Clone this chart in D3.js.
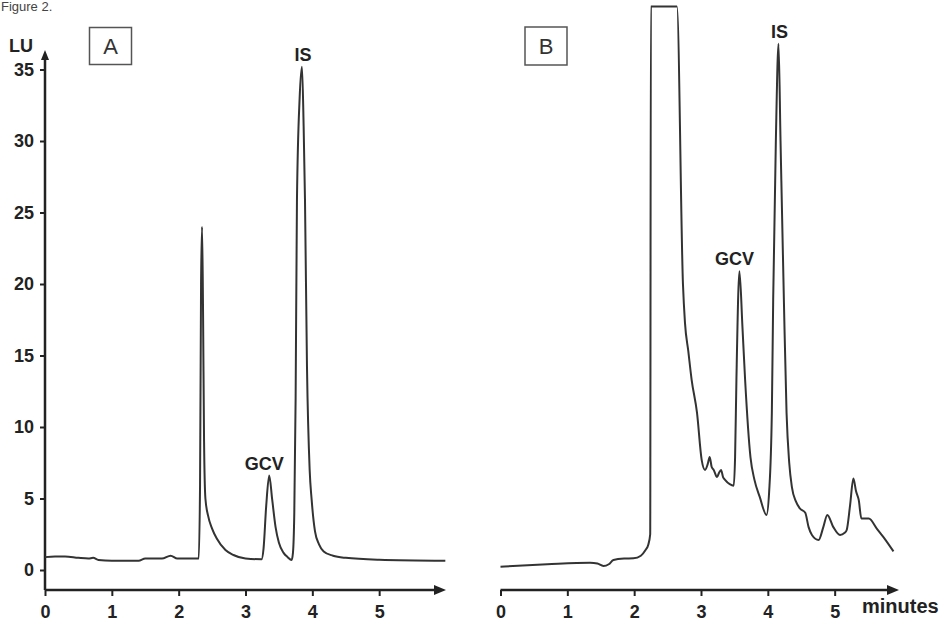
<!DOCTYPE html>
<html>
<head>
<meta charset="utf-8">
<script src="https://cdn.jsdelivr.net/npm/d3@7"></script>
<style>
  html, body { margin: 0; padding: 0; background: #fff; }
  svg { display: block; }
  text { font-family: "Liberation Sans", Arial, sans-serif; }
</style>
</head>
<body>
<svg id="chart" width="947" height="626"></svg>
<script>
// ---- data ----
const yTicks = [0, 5, 10, 15, 20, 25, 30, 35];
const xTicks = [0, 1, 2, 3, 4, 5];

// Panel A chromatogram (minutes, LU)
const timeA = [0, 0.15, 0.3, 0.5, 0.65, 0.72, 0.8, 1.0, 1.4, 1.5, 1.75, 1.88, 1.98, 2.30,
  2.32, 2.335, 2.35, 2.365, 2.38, 2.40, 2.44, 2.5, 2.57, 2.7, 2.82, 3.0,
  3.24, 3.27, 3.31, 3.355, 3.40, 3.45, 3.5, 3.57, 3.63, 3.69,
  3.71, 3.73, 3.75, 3.77, 3.81, 3.845, 3.87, 3.89, 3.92, 3.96, 3.99, 4.04, 4.1, 4.17, 4.31, 4.5, 5.0, 5.99];
const signalA = [0.9, 0.95, 0.95, 0.85, 0.8, 0.85, 0.7, 0.65, 0.65, 0.8, 0.8, 1.0, 0.8, 0.8,
  6, 20, 24, 18, 9, 5.0, 3.8, 2.9, 2.2, 1.4, 1.05, 0.8,
  0.75, 1.5, 4.5, 6.6, 4.9, 3.0, 1.9, 1.2, 0.9, 0.7,
  1.2, 4, 12, 25.9, 33, 35.2, 31, 25.9, 14.2, 7, 4.9, 2.7, 1.8, 1.3, 1.0, 0.85, 0.72, 0.65];

// Panel B chromatogram (minutes, LU); the 39.4 plateau is the off-scale peak
const timeB = [0, 0.7, 1.34, 1.45, 1.54, 1.62, 1.69, 1.85, 1.99, 2.1, 2.17, 2.21, 2.24,
  2.25, 2.64, 2.73, 2.76, 2.81, 2.86, 2.94, 3.01, 3.06, 3.1, 3.13, 3.16, 3.19, 3.24, 3.27, 3.30, 3.33, 3.36, 3.43, 3.49,
  3.51, 3.53, 3.575, 3.62, 3.66, 3.74, 3.80, 3.88, 3.98,
  4.02, 4.06, 4.08, 4.12, 4.16, 4.19, 4.24, 4.28, 4.32, 4.36, 4.42, 4.48, 4.56, 4.61, 4.66, 4.76, 4.83, 4.89,
  4.98, 5.08, 5.15, 5.18, 5.23, 5.28, 5.32, 5.36, 5.4, 5.43, 5.51, 5.63, 5.73, 5.88];
const signalB = [0.23, 0.4, 0.51, 0.45, 0.28, 0.4, 0.7, 0.8, 0.82, 1.0, 1.4, 1.75, 2.5,
  39.4, 39.4, 20, 17.3, 15.3, 13.3, 11.0, 7.7, 7.0, 7.4, 7.9, 7.2, 7.0, 6.5, 6.8, 7.0, 6.5, 6.3, 6.0, 5.9,
  7.9, 13.3, 20.9, 17, 13.3, 7.9, 6.3, 5.1, 3.85,
  5.5, 11, 18.9, 30, 36.8, 30, 18.9, 11, 7.5, 5.8, 4.8, 4.3, 4.0, 3.0, 2.45, 2.1, 3.0, 3.85,
  3.0, 2.45, 2.6, 2.8, 4.5, 6.4, 5.5, 4.9, 3.6, 3.6, 3.6, 2.9, 2.3, 1.3];

const peakLabelsA = [{ name: "GCV", t: 3.355, v: 6.6 }, { name: "IS", t: 3.845, v: 35.2 }];
const peakLabelsB = [{ name: "GCV", t: 3.575, v: 20.9 }, { name: "IS", t: 4.16, v: 36.8 }];

// ---- drawing ----
const svg = d3.select("#chart");
const ink = "#222";
const traceColor = "#333";

const y = d3.scaleLinear().domain([0, 35]).range([570, 69.5]);
const xA = d3.scaleLinear().domain([0, 6]).range([45, 446]);
const xB = d3.scaleLinear().domain([0, 6]).range([500.5, 901.5]);
const axisY = 590;

// figure caption
svg.append("text").attr("x", 1).attr("y", 11).attr("font-size", 13).attr("fill", "#444").text("Figure 2.");

function xAxis(x, endPx) {
  const g = svg.append("g").attr("transform", `translate(0,${axisY})`);
  g.call(d3.axisBottom(x).tickValues(xTicks).tickSize(6).tickSizeOuter(0).tickFormat(d3.format("d")));
  g.select(".domain").remove();
  g.selectAll(".tick line").attr("stroke", ink).attr("stroke-width", 2);
  g.selectAll(".tick text").attr("font-size", 18).attr("font-weight", "bold").attr("fill", ink).attr("dy", "1.05em");
  g.append("line").attr("x1", x(0)).attr("x2", endPx - 6).attr("y1", 0).attr("y2", 0)
    .attr("stroke", ink).attr("stroke-width", 2.5);
  g.append("path").attr("d", `M${endPx},0 L${endPx - 12},-5 L${endPx - 12},5 Z`).attr("fill", ink);
  return g;
}

// Panel A axes
xAxis(xA, 446);
const gy = svg.append("g").attr("transform", `translate(${xA(0)},0)`);
gy.call(d3.axisLeft(y).tickValues(yTicks).tickSize(5).tickSizeOuter(0));
gy.select(".domain").remove();
gy.selectAll(".tick line").attr("stroke", ink).attr("stroke-width", 2);
gy.selectAll(".tick text").attr("font-size", 18).attr("font-weight", "bold").attr("fill", ink).attr("x", -11);
gy.append("line").attr("x1", 0).attr("x2", 0).attr("y1", axisY).attr("y2", 58).attr("stroke", ink).attr("stroke-width", 2.5);
gy.append("path").attr("d", "M0,50 L-4,60 L4,60 Z").attr("fill", ink);
svg.append("text").attr("x", 9).attr("y", 52).attr("font-size", 18).attr("font-weight", "bold").attr("fill", ink).text("LU");

// Panel B axis
xAxis(xB, 899);
svg.append("text").attr("x", 862).attr("y", 613).attr("font-size", 20).attr("font-weight", "bold").attr("fill", ink).text("minutes");

// panel boxes
function panelBox(x0, y0, w, h, label) {
  svg.append("rect").attr("x", x0).attr("y", y0).attr("width", w).attr("height", h)
    .attr("fill", "none").attr("stroke", "#555").attr("stroke-width", 1.5);
  svg.append("text").attr("x", x0 + w / 2).attr("y", y0 + h / 2 + 8).attr("text-anchor", "middle")
    .attr("font-size", 22).attr("fill", "#333").text(label);
}
panelBox(89.5, 27.5, 42, 37, "A");
panelBox(525, 27, 42, 38, "B");

// traces
const dataA = timeA.map((t, i) => [t, signalA[i]]);
const dataB = timeB.map((t, i) => [t, signalB[i]]);

svg.append("path").datum(dataA)
  .attr("d", d3.line().x(d => xA(d[0])).y(d => y(d[1])).curve(d3.curveMonotoneX))
  .attr("fill", "none").attr("stroke", traceColor).attr("stroke-width", 2).attr("stroke-linejoin", "round");

svg.append("path").datum(dataB)
  .attr("d", d3.line().x(d => xB(d[0])).y(d => y(d[1])).curve(d3.curveMonotoneX))
  .attr("fill", "none").attr("stroke", traceColor).attr("stroke-width", 2).attr("stroke-linejoin", "round");

// peak labels
function peakLabels(list, x) {
  list.forEach(p => {
    svg.append("text").attr("x", x(p.t) + (p.name === "IS" ? 1 : -5)).attr("y", y(p.v) - 6)
      .attr("text-anchor", "middle").attr("font-size", 18).attr("font-weight", "bold").attr("fill", ink)
      .text(p.name);
  });
}
peakLabels(peakLabelsA, xA);
peakLabels(peakLabelsB, xB);
</script>
</body>
</html>
